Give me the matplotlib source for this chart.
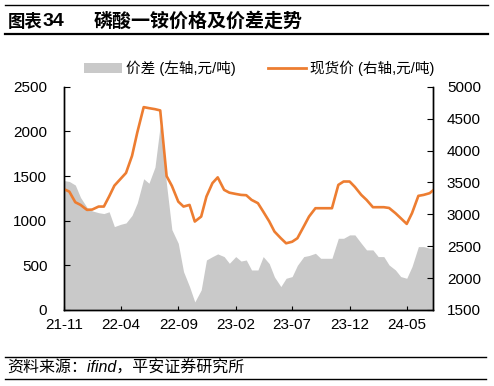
import pandas as pd
import matplotlib
matplotlib.use("Agg")
import matplotlib.pyplot as plt
import matplotlib.dates as mdates
from matplotlib.patches import Patch
from matplotlib.lines import Line2D

plt.rcParams['font.family'] = ['Liberation Sans', 'Noto Sans CJK SC', 'DejaVu Sans']

# semi-monthly readings, 2021-11-01 .. 2024-07-15
dates = pd.date_range('2021-11-01', periods=66, freq='SMS')

# 价差 (left axis, 元/吨)
spread = [1450, 1440, 1400, 1260, 1150, 1110, 1090, 1080, 1100, 934,
          960, 975, 1060, 1200, 1470, 1420, 1600, 2070, 1400, 900,
          747, 430, 262, 90, 224, 560, 598, 628, 598, 523,
          598, 548, 560, 448, 448, 598, 520, 370, 262, 355,
          374, 500, 598, 610, 635, 579, 579, 579, 803, 803,
          841, 841, 747, 673, 673, 598, 598, 504, 448, 374,
          355, 486, 710, 710, 692, 692]

# 现货价 (right axis, 元/吨)
spot = [3395, 3357, 3190, 3148, 3070, 3075, 3122, 3122, 3280, 3450,
        3560, 3650, 3918, 4285, 4682, 4666, 4650, 4630, 3600, 3447,
        3200, 3122, 3148, 2887, 2965, 3279, 3490, 3580, 3384, 3340,
        3320, 3305, 3300, 3227, 3175, 3044, 2890, 2730, 2625, 2546,
        2570, 2625, 2810, 2965, 3096, 3096, 3096, 3096, 3462, 3515,
        3515, 3430, 3305, 3227, 3112, 3112, 3112, 3100, 3018, 2940,
        2850, 3018, 3290, 3305, 3332, 3400]

tick_dates = pd.to_datetime(['2021-11-01', '2022-04-01', '2022-09-01', '2023-02-01',
                             '2023-07-01', '2023-12-01', '2024-05-01'])

gray = '#c9c9c9'
orange = '#ED7D31'

fig = plt.figure(figsize=(4.94, 3.86), dpi=100)
ax = fig.add_axes([0.1296, 0.197, 0.747, 0.578])
ax2 = ax.twinx()

ax.fill_between(dates, spread, 0, color=gray, lw=0)
ax2.plot(dates, spot, color=orange, lw=1.9)

ax.set_xlim(dates[0], pd.Timestamp('2024-07-10'))
ax.set_ylim(0, 2500)
ax.set_yticks(range(0, 2501, 500))
ax2.set_ylim(1500, 5000)
ax2.set_yticks(range(1500, 5001, 500))
ax.set_xticks(tick_dates)
ax.xaxis.set_major_formatter(mdates.DateFormatter('%y-%m'))

for a in (ax, ax2):
    a.spines['top'].set_visible(False)
    for s in a.spines.values():
        s.set_linewidth(1.0)
ax.tick_params(axis='y', direction='in', length=4.5, pad=12, labelsize=11)
ax.tick_params(axis='x', direction='in', length=3, pad=6, labelsize=11)
ax2.tick_params(axis='y', direction='in', length=4.5, pad=10, labelsize=11)

# legend
handles = [Patch(facecolor=gray, edgecolor='none'),
           Line2D([], [], color=orange, lw=2)]
fig.legend(handles, ['价差 (左轴,元/吨)', '现货价 (右轴,元/吨)'],
           loc='center', bbox_to_anchor=(0.525, 0.824), ncol=2, frameon=False,
           fontsize=10.5, handlelength=2.6, handletextpad=0.3, columnspacing=2.2)

# title block
fig.add_artist(Line2D([0.01, 0.988], [0.987, 0.987], color='black', lw=1.0))
fig.add_artist(Line2D([0.01, 0.988], [0.912, 0.912], color='black', lw=1.6))
fig.text(0.016, 0.945, '图表', fontsize=12.5, fontweight='bold', va='center')
fig.text(0.087, 0.945, '34', fontsize=14, fontweight='bold', va='center')
fig.text(0.19, 0.945, '磷酸一铵价格及价差走势', fontsize=13.7, fontweight='bold', va='center')

# source block
fig.add_artist(Line2D([0.01, 0.984], [0.075, 0.075], color='black', lw=1.0))
fig.add_artist(Line2D([0.01, 0.984], [0.017, 0.017], color='black', lw=1.0))
fig.text(0.014, 0.046, '资料来源：ifind，平安证券研究所', fontsize=11.5, style='italic', va='center')

fig.savefig('out.png', dpi=100)
